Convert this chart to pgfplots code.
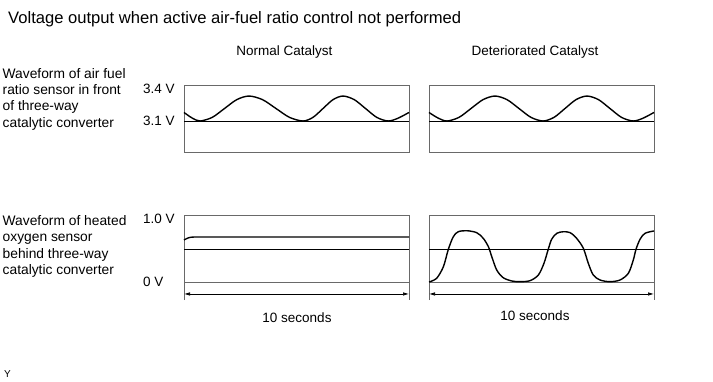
\documentclass[border=0pt]{standalone}
\usepackage{pgfplots}
\pgfplotsset{compat=1.18}
\usepackage{fontspec}
\setmainfont{Liberation Sans}
\usetikzlibrary{arrows.meta}
\definecolor{framegray}{RGB}{105,105,105}
\newcommand\sz{\fontsize{13.5pt}{16pt}\selectfont}
\newcommand\lsz{\fontsize{13.8pt}{16.3pt}\selectfont}
\pgfplotsset{
  panel/.style={scale only axis, width=225pt, xmin=0, xmax=10,
    axis line style={draw=none}, xtick=\empty, major tick length=0pt, clip=false,
    yticklabel style={anchor=west, xshift=-41pt, inner sep=0pt, font=\sz},
    /pgf/number format/assume math mode=true},
  toppanel/.style={panel, height=67pt, ymin=2.8, ymax=3.428},
  botpanel/.style={panel, height=84pt, ymin=-0.2857, ymax=1.0476},
  wave/.style={black, line width=1.4pt, smooth, no markers},
  ref/.style={black, line width=0.7pt, no markers},
}
\begin{document}
\begin{tikzpicture}
\path[use as bounding box] (0pt,0pt) rectangle (713pt,381pt);

% ---------- top left ----------
\begin{axis}[toppanel, at={(184pt,228pt)}, anchor=south west,
  ytick={3.1,3.4}, yticklabels={3.1 V,3.4 V}]
  \draw[framegray, line width=1pt] (rel axis cs:0,0) rectangle (rel axis cs:1,1);
  \addplot[ref] coordinates {(0,3.1) (10,3.1)};
  \addplot[wave] coordinates {(0,3.18) (0.36,3.128) (0.711,3.1) (1.256,3.134) (1.8,3.217) (2.344,3.300) (2.889,3.334) (3.489,3.300) (4.089,3.217) (4.689,3.134) (5.289,3.1) (5.733,3.134) (6.178,3.217) (6.622,3.300) (7.067,3.334) (7.567,3.300) (8.067,3.217) (8.567,3.134) (9.067,3.1) (9.5,3.125) (10,3.18)};
\end{axis}

% ---------- top right ----------
\begin{axis}[toppanel, at={(429pt,228pt)}, anchor=south west, ytick=\empty]
  \draw[framegray, line width=1pt] (rel axis cs:0,0) rectangle (rel axis cs:1,1);
  \addplot[ref] coordinates {(0,3.1) (10,3.1)};
  \addplot[wave] coordinates {(0,3.18) (0.4,3.128) (0.8,3.1) (1.333,3.134) (1.867,3.217) (2.4,3.300) (2.933,3.334) (3.467,3.300) (4.0,3.217) (4.533,3.134) (5.067,3.1) (5.556,3.134) (6.044,3.217) (6.533,3.300) (7.022,3.334) (7.533,3.300) (8.044,3.217) (8.556,3.134) (9.067,3.1) (9.5,3.125) (10,3.18)};
\end{axis}

% ---------- bottom left ----------
\begin{axis}[botpanel, at={(184pt,81pt)}, anchor=south west,
  ytick={0,1}, yticklabels={0 V,1.0 V}]
  \draw[framegray, line width=1pt] (axis cs:0,-0.2857) -- (axis cs:0,1.0476) -- (axis cs:10,1.0476) -- (axis cs:10,-0.2857);
  \addplot[framegray, line width=1pt, no markers] coordinates {(0,0) (10,0)};
  \addplot[ref] coordinates {(0,0.52) (10,0.52)};
  \addplot[black, line width=1.4pt, no markers] coordinates {(0,0.667) (0.1,0.686) (0.2,0.701) (0.3,0.710) (0.45,0.714) (10,0.714)};
  \draw[black, line width=0.7pt, {Latex[length=6pt,width=3.5pt]}-{Latex[length=6pt,width=3.5pt]}] (axis cs:0,-0.19) -- (axis cs:10,-0.19);
\end{axis}

% ---------- bottom right ----------
\begin{axis}[botpanel, at={(429pt,81pt)}, anchor=south west, ytick=\empty]
  \draw[framegray, line width=1pt] (axis cs:0,-0.2857) -- (axis cs:0,1.0476) -- (axis cs:10,1.0476) -- (axis cs:10,-0.2857);
  \addplot[framegray, line width=1pt, no markers] coordinates {(0,0) (10,0)};
  \addplot[ref] coordinates {(0,0.52) (10,0.52)};
  \addplot[wave] coordinates {(0,0.0) (0.34,0.059) (0.64,0.243) (0.86,0.519) (1.08,0.719) (1.30,0.798) (1.68,0.814) (2.12,0.783) (2.41,0.694) (2.64,0.560) (2.79,0.402) (3.01,0.190) (3.30,0.068) (3.68,0.016) (4.04,0.005) (4.49,0.021) (4.86,0.111) (5.11,0.297) (5.30,0.519) (5.45,0.678) (5.68,0.773) (5.97,0.798) (6.27,0.783) (6.56,0.694) (6.86,0.535) (7.08,0.297) (7.30,0.111) (7.60,0.032) (8.04,0.005) (8.49,0.032) (8.86,0.138) (9.08,0.349) (9.20,0.519) (9.38,0.678) (9.60,0.773) (10,0.810)};
  \draw[black, line width=0.7pt, {Latex[length=6pt,width=3.5pt]}-{Latex[length=6pt,width=3.5pt]}] (axis cs:0,-0.19) -- (axis cs:10,-0.19);
\end{axis}

% ---------- texts ----------
\node[anchor=base west, inner sep=0pt, font=\fontsize{16.6pt}{19pt}\selectfont] at (8pt,357pt) {Voltage output when active air-fuel ratio control not performed};
\node[anchor=base, inner sep=0pt, font=\sz] at (284.5pt,325pt) {Normal Catalyst};
\node[anchor=base, inner sep=0pt, font=\sz] at (535pt,325pt) {Deteriorated Catalyst};

\node[anchor=base west, inner sep=0pt, font=\lsz] at (2.5pt,302.5pt) {Waveform of air fuel};
\node[anchor=base west, inner sep=0pt, font=\lsz] at (2.5pt,286.2pt) {ratio sensor in front};
\node[anchor=base west, inner sep=0pt, font=\lsz] at (2.5pt,270pt) {of three-way};
\node[anchor=base west, inner sep=0pt, font=\lsz] at (2.5pt,253.7pt) {catalytic converter};

\node[anchor=base west, inner sep=0pt, font=\lsz] at (2.5pt,155.5pt) {Waveform of heated};
\node[anchor=base west, inner sep=0pt, font=\lsz] at (2.5pt,139.2pt) {oxygen sensor};
\node[anchor=base west, inner sep=0pt, font=\lsz] at (2.5pt,123pt) {behind three-way};
\node[anchor=base west, inner sep=0pt, font=\lsz] at (2.5pt,106.5pt) {catalytic converter};

\node[anchor=base, inner sep=0pt, font=\sz] at (297pt,59pt) {10 seconds};
\node[anchor=base, inner sep=0pt, font=\sz] at (535pt,61pt) {10 seconds};

\node[anchor=base west, inner sep=0pt, font=\fontsize{10pt}{12pt}\selectfont] at (4pt,4pt) {Y};
\end{tikzpicture}
\end{document}
